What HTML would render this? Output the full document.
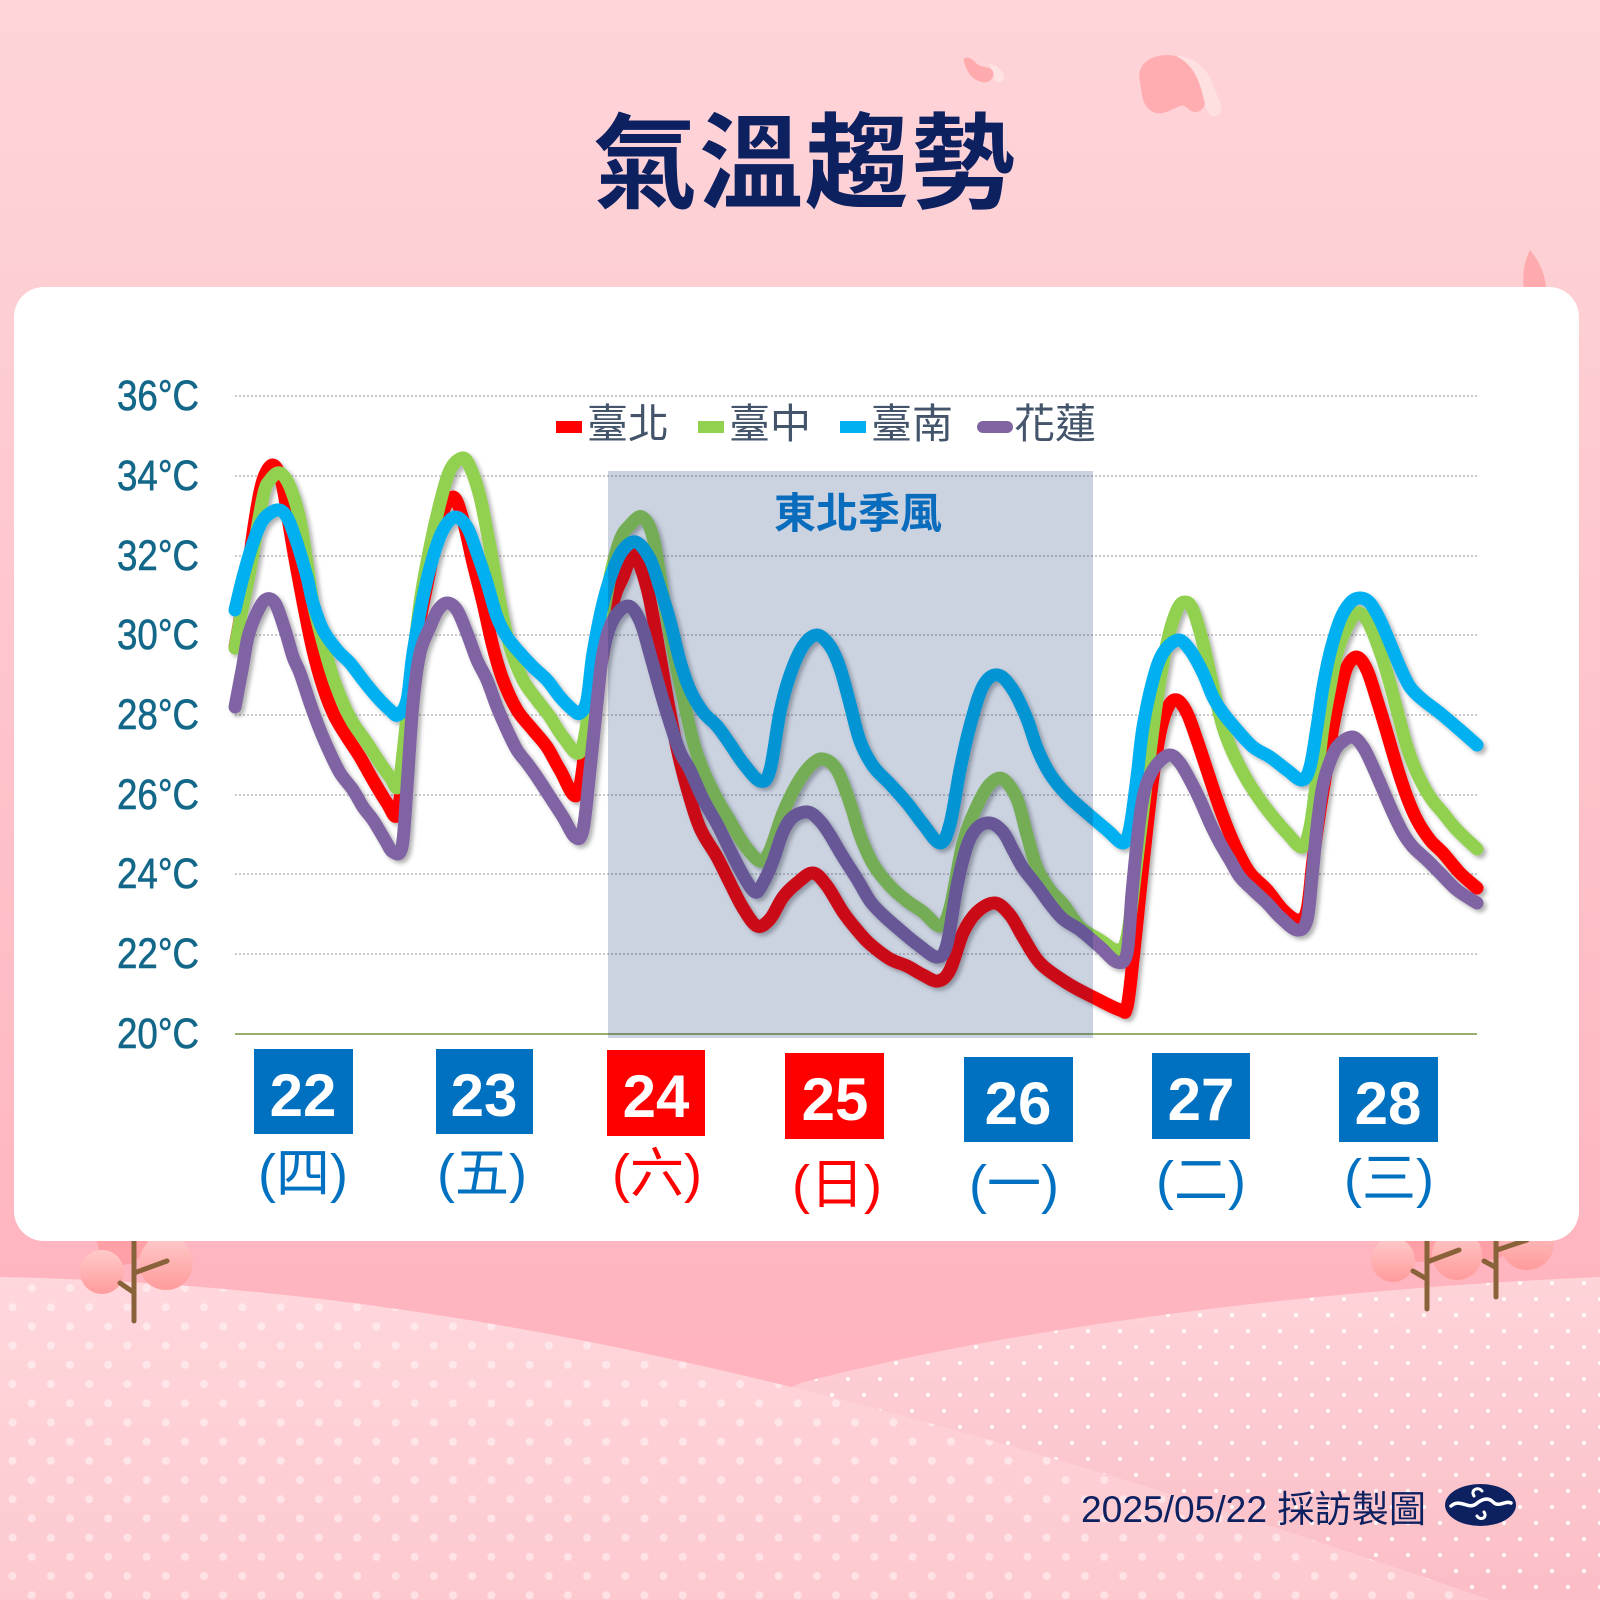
<!DOCTYPE html>
<html>
<head>
<meta charset="utf-8">
<style>
  html,body{margin:0;padding:0;background:#fdd0d4;}
  svg{display:block;}
</style>
</head>
<body>
<svg width="1600" height="1600" viewBox="0 0 1600 1600" xmlns="http://www.w3.org/2000/svg">
  <defs>
    <linearGradient id="bg" x1="0" y1="0" x2="0" y2="1">
      <stop offset="0" stop-color="#fed4d8"/>
      <stop offset="0.15" stop-color="#fdd0d4"/>
      <stop offset="0.8" stop-color="#ffb5c0"/>
      <stop offset="1" stop-color="#ffb3be"/>
    </linearGradient>
    <linearGradient id="hillL" x1="0" y1="0" x2="0" y2="1">
      <stop offset="0" stop-color="#fed7dc"/>
      <stop offset="1" stop-color="#fdc9cf"/>
    </linearGradient>
    <linearGradient id="hillR" x1="0" y1="0" x2="0" y2="1">
      <stop offset="0" stop-color="#fed4d9"/>
      <stop offset="1" stop-color="#fbbdc6"/>
    </linearGradient>
    <linearGradient id="blossom" x1="0" y1="0" x2="0" y2="1">
      <stop offset="0" stop-color="#ffcaca"/>
      <stop offset="1" stop-color="#ff9b9b"/>
    </linearGradient>
    <pattern id="dotsL" patternUnits="userSpaceOnUse" x="0" y="0" width="38.3" height="38.4">
      <circle cx="31.7" cy="20.8" r="4" fill="#ffffff" fill-opacity="0.45"/>
      <circle cx="12.55" cy="1.6" r="4" fill="#ffffff" fill-opacity="0.45"/>
      <circle cx="12.55" cy="40" r="4" fill="#ffffff" fill-opacity="0.45"/>
    </pattern>
    <pattern id="dotsR" patternUnits="userSpaceOnUse" x="0" y="0" width="32" height="32">
      <circle cx="0" cy="19" r="2.1" fill="#ffffff" fill-opacity="0.9"/>
      <circle cx="32" cy="19" r="2.1" fill="#ffffff" fill-opacity="0.9"/>
      <circle cx="16" cy="3" r="2.1" fill="#ffffff" fill-opacity="0.9"/>
    </pattern>
    <filter id="sh" x="-5%" y="-5%" width="110%" height="110%">
      <feDropShadow dx="3" dy="3" stdDeviation="2.2" flood-color="#000" flood-opacity="0.3"/>
    </filter>
  </defs>

  <!-- background -->
  <rect x="0" y="0" width="1600" height="1600" fill="url(#bg)"/>

  <!-- right hill -->
  <path d="M600,1470 L801,1383 C1000,1330 1300,1290 1600,1277 L1600,1600 L600,1600 Z" fill="url(#hillR)"/>
  <path d="M600,1470 L801,1383 C1000,1330 1300,1290 1600,1277 L1600,1600 L600,1600 Z" fill="url(#dotsR)"/>
  <!-- left hill -->
  <path d="M0,1277 C400,1285 800,1360 1490,1600 L0,1600 Z" fill="url(#hillL)"/>
  <path d="M0,1277 C400,1285 800,1360 1490,1600 L0,1600 Z" fill="url(#dotsL)"/>

  <!-- left tree -->
  <circle cx="122" cy="1240" r="25" fill="#ff9fa6"/>
  <circle cx="102" cy="1272" r="22" fill="url(#blossom)"/>
  <circle cx="166" cy="1263" r="27" fill="url(#blossom)"/>
  <g stroke="#8a6239" stroke-width="5" stroke-linecap="round" fill="none">
    <line x1="134" y1="1235" x2="134" y2="1321"/>
    <line x1="134" y1="1273" x2="167" y2="1261"/>
    <line x1="133" y1="1292" x2="120" y2="1283"/>
  </g>

  <!-- right trees -->
  <circle cx="1420" cy="1240" r="22" fill="#ff9fa6"/>
  <circle cx="1490" cy="1238" r="22" fill="#ff9fa6"/>
  <circle cx="1393" cy="1260" r="22" fill="url(#blossom)"/>
  <circle cx="1457" cy="1255" r="25" fill="url(#blossom)"/>
  <circle cx="1527" cy="1243" r="27" fill="url(#blossom)"/>
  <g stroke="#8a6239" stroke-width="5" stroke-linecap="round" fill="none">
    <line x1="1427" y1="1235" x2="1427" y2="1309"/>
    <line x1="1427" y1="1262" x2="1459" y2="1250"/>
    <line x1="1425" y1="1278" x2="1413" y2="1271"/>
    <line x1="1496" y1="1235" x2="1496" y2="1297"/>
    <line x1="1497" y1="1250" x2="1527" y2="1240"/>
    <line x1="1495" y1="1267" x2="1484" y2="1261"/>
  </g>

  <!-- petals -->
  <path d="M964,62 C962,56 970,56 975,62 C980,68 988,66 992,70 C996,76 990,84 982,82 C972,80 967,72 964,62 Z" fill="#ffabad"/>
  <path d="M988,64 C996,64 1003,70 1004,77 C1004,82 998,84 994,80 C996,74 992,68 988,64 Z" fill="#ffe2e2"/>
  <path d="M1140,82 C1135,62 1155,52 1176,56 C1192,60 1198,74 1202,86 C1208,98 1206,112 1195,112 C1188,112 1187,104 1180,106 C1170,110 1160,118 1150,110 C1142,104 1142,94 1140,82 Z" fill="#ffadb0"/>
  <path d="M1176,56 C1196,56 1210,72 1214,88 C1220,102 1226,112 1216,116 C1210,118 1206,110 1204,100 C1200,84 1196,66 1176,56 Z" fill="#ffe0e0"/>
  <path d="M1530,250 C1524,262 1522,276 1524,290 L1546,290 C1546,276 1540,262 1530,250 Z" fill="#ffabad"/>

  <!-- card -->
  <rect x="14" y="287" width="1565" height="954" rx="30" ry="30" fill="#ffffff"/>

  <!-- title -->
  <text x="805" y="200" text-anchor="middle" font-family="'Liberation Sans','Noto Sans CJK TC',sans-serif" font-weight="bold" font-size="104" letter-spacing="2" fill="#0d2161">氣溫趨勢</text>

  <!-- gridlines -->
  <g stroke="#ababab" stroke-width="1.3" stroke-dasharray="2 2">
    <line x1="235" y1="396" x2="1477" y2="396"/>
    <line x1="235" y1="476" x2="1477" y2="476"/>
    <line x1="235" y1="556" x2="1477" y2="556"/>
    <line x1="235" y1="635" x2="1477" y2="635"/>
    <line x1="235" y1="715" x2="1477" y2="715"/>
    <line x1="235" y1="795" x2="1477" y2="795"/>
    <line x1="235" y1="874" x2="1477" y2="874"/>
    <line x1="235" y1="954" x2="1477" y2="954"/>
  </g>
  <line x1="235" y1="1034" x2="1477" y2="1034" stroke="#77933c" stroke-width="1.6"/>

  <!-- y labels -->
  <g font-family="'Liberation Sans','Noto Sans CJK TC',sans-serif" font-size="43" fill="#136788" stroke="#136788" stroke-width="0.6" text-anchor="end">
    <text x="199" y="410" textLength="82" lengthAdjust="spacingAndGlyphs">36°C</text>
    <text x="199" y="490" textLength="82" lengthAdjust="spacingAndGlyphs">34°C</text>
    <text x="199" y="570" textLength="82" lengthAdjust="spacingAndGlyphs">32°C</text>
    <text x="199" y="649" textLength="82" lengthAdjust="spacingAndGlyphs">30°C</text>
    <text x="199" y="729" textLength="82" lengthAdjust="spacingAndGlyphs">28°C</text>
    <text x="199" y="809" textLength="82" lengthAdjust="spacingAndGlyphs">26°C</text>
    <text x="199" y="888" textLength="82" lengthAdjust="spacingAndGlyphs">24°C</text>
    <text x="199" y="968" textLength="82" lengthAdjust="spacingAndGlyphs">22°C</text>
    <text x="199" y="1048" textLength="82" lengthAdjust="spacingAndGlyphs">20°C</text>
  </g>

  <!-- series -->
  <g id="series" fill="none" stroke-width="13" stroke-linejoin="round" stroke-linecap="round" filter="url(#sh)">
    <polyline stroke="#ff0000" points="235,647 245,590 255,520 263,480 273,465 282,483 290,530 297,570 310,637 320,677 333,713 347,737 360,757 373,780 387,803 397,815 403,770 410,700 417,637 430,570 440,520 453,497 463,520 473,563 483,603 493,647 503,680 517,710 533,730 547,747 560,770 577,795 587,737 600,670 613,603 623,577 634,555 647,588 657,639 667,697 677,748 687,788 700,828 717,857 730,883 743,908 757,926 770,919 783,897 797,883 813,873 827,886 843,912 857,930 870,944 890,959 907,966 923,975 938,981 950,970 963,933 977,912 995,903 1010,915 1023,937 1040,963 1067,983 1093,997 1120,1010 1127,1007 1133,960 1140,893 1147,827 1153,777 1160,733 1168,707 1177,700 1187,713 1197,740 1207,770 1217,800 1227,827 1237,850 1250,873 1267,890 1283,910 1298,920 1307,910 1313,860 1320,810 1327,767 1333,727 1340,693 1347,667 1357,657 1367,670 1377,700 1387,733 1397,767 1407,797 1417,820 1430,840 1443,853 1460,873 1477,888"/>
    <polyline stroke="#92d050" points="235,648 242,610 250,570 263,497 270,480 280,473 290,487 300,520 307,563 313,603 323,643 333,677 343,703 353,723 367,743 380,763 390,777 398,787 403,753 410,687 420,603 430,547 440,503 450,470 462,458 470,467 480,497 490,547 500,603 510,647 523,680 537,700 550,717 563,737 580,752 590,703 600,637 610,577 620,540 630,525 642,517 653,537 663,595 673,650 683,697 693,741 703,770 717,799 730,821 743,843 760,861 770,850 783,813 797,784 810,766 823,759 837,770 850,803 860,835 873,864 890,886 907,901 923,912 940,926 950,908 963,843 977,806 990,784 1003,779 1017,799 1027,835 1037,868 1050,890 1063,904 1080,927 1100,940 1117,950 1127,937 1137,860 1147,777 1157,700 1167,643 1177,610 1185,602 1193,610 1203,643 1213,687 1223,727 1233,753 1247,780 1260,800 1273,817 1287,833 1302,847 1310,827 1317,777 1323,727 1330,687 1337,653 1347,627 1357,613 1367,620 1377,643 1387,673 1397,710 1407,747 1417,773 1430,797 1443,813 1457,830 1477,849"/>
    <polyline stroke="#00b0f0" points="235,610 243,577 253,543 263,520 277,510 287,517 297,543 307,577 313,603 323,630 337,650 350,663 363,680 377,697 390,710 398,715 407,700 413,653 423,597 433,557 443,530 455,517 467,527 477,553 487,583 497,617 507,637 520,653 533,667 547,680 560,697 573,710 580,713 587,700 593,653 603,603 613,570 623,550 636,542 650,559 660,588 670,621 680,661 690,690 703,712 717,726 730,744 743,763 760,781 770,770 780,712 790,675 803,646 817,635 830,646 840,668 850,704 860,741 873,766 890,784 907,803 923,824 940,843 950,824 960,770 970,726 983,686 998,675 1013,690 1027,719 1037,748 1050,774 1067,795 1087,813 1107,830 1123,843 1130,827 1137,777 1143,727 1153,680 1163,653 1178,640 1190,650 1203,673 1213,697 1223,713 1237,730 1253,747 1270,757 1287,770 1302,780 1310,767 1317,727 1323,687 1330,653 1340,620 1350,603 1360,598 1370,603 1380,620 1390,643 1400,667 1410,687 1423,700 1440,713 1460,730 1477,745"/>
    <polyline stroke="#8064a2" points="235,707 242,670 248,637 255,617 265,600 275,603 285,630 293,657 300,673 310,703 320,730 330,753 340,773 353,790 363,807 373,820 385,840 393,852 402,847 407,787 413,703 420,653 430,627 438,610 447,603 457,610 467,633 477,660 487,680 497,707 507,730 517,750 527,763 537,777 550,797 563,817 575,837 583,830 590,770 597,703 603,653 613,620 628,606 640,621 650,654 660,690 670,723 680,752 690,770 703,799 717,824 730,850 743,875 755,892 763,883 773,861 783,832 793,817 808,812 820,821 830,835 843,857 857,879 870,901 883,915 900,930 917,944 937,957 947,944 957,886 967,846 977,828 990,823 1003,832 1013,850 1023,868 1037,886 1050,904 1063,919 1080,930 1100,947 1117,962 1127,953 1132,893 1137,843 1142,803 1148,780 1158,763 1170,755 1180,763 1190,780 1200,800 1210,823 1220,843 1230,860 1240,877 1253,890 1267,903 1280,917 1297,930 1307,920 1312,877 1317,827 1322,790 1327,770 1337,747 1352,737 1363,747 1373,767 1383,790 1393,813 1403,833 1413,847 1427,860 1440,873 1457,890 1477,903"/>
  </g>

  <!-- NE monsoon shaded box -->
  <rect x="608" y="471" width="485" height="567" fill="rgb(14,46,111)" fill-opacity="0.216"/>
  <text x="858" y="528" text-anchor="middle" font-family="'Liberation Sans','Noto Sans CJK TC',sans-serif" font-weight="bold" font-size="42" fill="#0a6cbc">東北季風</text>

  <!-- legend -->
  <rect x="556" y="421" width="26" height="12" fill="#ff0000"/>
  <rect x="698" y="421" width="26" height="12" fill="#92d050"/>
  <rect x="840" y="421" width="26" height="12" fill="#00b0f0"/>
  <line x1="983" y1="427" x2="1007" y2="427" stroke="#8064a2" stroke-width="12" stroke-linecap="round"/>
  <g font-family="'Liberation Sans','Noto Sans CJK TC',sans-serif" font-size="41" fill="#44546a">
    <text x="587" y="438">臺北</text>
    <text x="729" y="438">臺中</text>
    <text x="871" y="438">臺南</text>
    <text x="1014" y="438">花蓮</text>
  </g>

  <!-- date boxes -->
  <rect x="254" y="1049" width="99" height="85" fill="#0070c0"/>
  <rect x="436" y="1049" width="97" height="85" fill="#0070c0"/>
  <rect x="607" y="1050" width="98" height="86" fill="#ff0000"/>
  <rect x="785" y="1053" width="99" height="86" fill="#ff0000"/>
  <rect x="964" y="1057" width="109" height="85" fill="#0070c0"/>
  <rect x="1152" y="1053" width="98" height="86" fill="#0070c0"/>
  <rect x="1339" y="1057" width="99" height="85" fill="#0070c0"/>
  <g font-family="'Liberation Sans',sans-serif" font-weight="bold" font-size="60" fill="#ffffff" text-anchor="middle">
    <text x="303" y="1116">22</text>
    <text x="484" y="1116">23</text>
    <text x="656" y="1117">24</text>
    <text x="835" y="1120">25</text>
    <text x="1018" y="1124">26</text>
    <text x="1201" y="1120">27</text>
    <text x="1388" y="1124">28</text>
  </g>

  <!-- weekday labels -->
  <g font-family="'Liberation Sans','Noto Sans CJK TC',sans-serif" font-size="54" text-anchor="middle">
    <text x="303" y="1192" fill="#0070c0">(四)</text>
    <text x="482" y="1192" fill="#0070c0">(五)</text>
    <text x="657" y="1192" fill="#ff0000">(六)</text>
    <text x="837" y="1203" fill="#ff0000">(日)</text>
    <text x="1014" y="1203" fill="#0070c0">(一)</text>
    <text x="1201" y="1199" fill="#0070c0">(二)</text>
    <text x="1389" y="1197" fill="#0070c0">(三)</text>
  </g>

  <!-- footer -->
  <text x="1426" y="1522" text-anchor="end" textLength="345" lengthAdjust="spacingAndGlyphs" font-family="'Liberation Sans','Noto Sans CJK TC',sans-serif" font-size="37" fill="#0d2161">2025/05/22 採訪製圖</text>
  <ellipse cx="1480.5" cy="1505" rx="35.5" ry="21" fill="#0d2161"/>
  <path d="M1451,1506 C1460,1498 1468,1510 1476,1504 C1482,1499 1488,1497 1493,1502 C1499,1508 1505,1500 1511,1503" stroke="#ffffff" stroke-width="3.5" fill="none" stroke-linecap="round"/>
  <path d="M1474,1496 C1470,1490 1478,1486 1482,1491 M1484,1512 C1488,1518 1480,1521 1477,1516" stroke="#ffffff" stroke-width="3" fill="none" stroke-linecap="round"/>
</svg>
<script>
(function(){
  try{
    var NS="http://www.w3.org/2000/svg";
    var g=document.getElementById("series");
    var pls=g.querySelectorAll("polyline");
    for(var k=0;k<pls.length;k++){
      var pl=pls[k];
      var raw=pl.getAttribute("points").trim().split(/\s+/);
      var p=[];
      for(var i=0;i<raw.length;i++){var c=raw[i].split(",");p.push([+c[0],+c[1]]);}
      var d="M"+p[0][0]+","+p[0][1];
      for(var i=0;i<p.length-1;i++){
        var p0=p[i>0?i-1:i],p1=p[i],p2=p[i+1],p3=p[i+2<p.length?i+2:i+1];
        var c1x=p1[0]+(p2[0]-p0[0])/6,c1y=p1[1]+(p2[1]-p0[1])/6;
        var c2x=p2[0]-(p3[0]-p1[0])/6,c2y=p2[1]-(p3[1]-p1[1])/6;
        d+=" C"+c1x.toFixed(1)+","+c1y.toFixed(1)+" "+c2x.toFixed(1)+","+c2y.toFixed(1)+" "+p2[0]+","+p2[1];
      }
      var path=document.createElementNS(NS,"path");
      path.setAttribute("d",d);
      path.setAttribute("stroke",pl.getAttribute("stroke"));
      g.replaceChild(path,pl);
    }
  }catch(e){}
})();
</script>
</body>
</html>
